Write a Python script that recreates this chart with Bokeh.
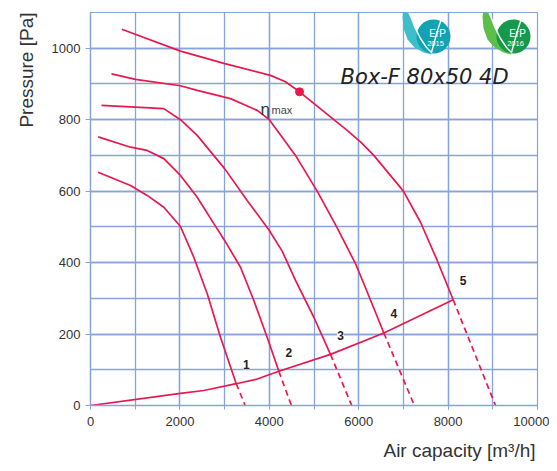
import math
from bokeh.plotting import figure
from bokeh.models import Range1d, SingleIntervalTicker, Label, LabelSet, ColumnDataSource, Title
from bokeh.core.properties import value
from bokeh.embed import file_html
from bokeh.resources import INLINE

# ---------------- data ----------------
c1_x = [170, 895, 1268, 1640, 2013, 2311, 2611, 2908, 3260]
c1_y = [653, 616, 588, 555, 501, 415, 313, 191, 61]
c2_x = [171, 895, 1268, 1640, 2013, 2387, 2759, 3000, 3356, 3654, 3952, 4213]
c2_y = [752, 723, 714, 691, 644, 583, 509, 462, 387, 294, 191, 96]
c3_x = [246, 895, 1640, 2013, 2387, 3000, 3505, 4000, 4288, 4586, 4996, 5369]
c3_y = [840, 836, 831, 800, 756, 663, 574, 490, 432, 350, 247, 143]
c4_x = [470, 1007, 2013, 2387, 3132, 3729, 4000, 4177, 4586, 5071, 5519, 5928, 6078, 6450, 6562]
c4_y = [928, 913, 895, 882, 859, 826, 800, 770, 700, 600, 497, 397, 352, 238, 203]
c5_x = [700, 2013, 3005, 4027, 4362, 4676, 5742, 6040, 6338, 7000, 7383, 7756, 8114]
c5_y = [1053, 992, 957, 924, 906, 878, 770, 738, 700, 600, 513, 406, 296]

# dashed continuation end points (below the axis, clipped)
dash_end_x = [3500, 4535, 5890, 7293, 9105]
dash_end_y = [-12, -14, -14, -14, -14]

# system (working point) curve
sys_x = [0, 2013, 2535, 3260, 3729, 4213, 5369, 6562, 8114]
sys_y = [0, 34, 42, 61, 74, 96, 143, 203, 296]

curve_names = ["1", "2", "3", "4", "5"]
eta_x = [4676]
eta_y = [878]

x_ticks_labels = ["0", "2000", "4000", "6000", "8000", "10000"]
y_ticks_labels = ["0", "200", "400", "600", "800", "1000"]

# ---------------- styling ----------------
RED = "#E8194C"
GRID = "#86A3DA"
TXT = "#333333"
W, H = 549, 470
ML, MR, MT, MB = 90, 12, 12, 65
XMAX, YMAX = 10000, 1100
XU = XMAX / (W - ML - MR)   # data units per pixel
YU = YMAX / (H - MT - MB)

def dx_(px):   # page pixel -> data x
    return (px - ML) * XU

def dy_(py):   # page pixel -> data y
    return (H - MB - py) * YU

p = figure(width=W, height=H, output_backend="svg", toolbar_location=None,
           x_range=Range1d(0, XMAX), y_range=Range1d(0, YMAX),
           min_border_left=ML, min_border_right=MR, min_border_top=MT, min_border_bottom=MB)
p.background_fill_color = "white"
p.border_fill_color = "white"
p.outline_line_color = GRID
p.outline_line_width = 1.2

xt = SingleIntervalTicker(interval=2000, num_minor_ticks=2)
yt = SingleIntervalTicker(interval=200, num_minor_ticks=2)
p.xaxis.ticker = xt
p.yaxis.ticker = yt
p.xgrid.ticker = xt
p.ygrid.ticker = yt
for g in (p.xgrid, p.ygrid):
    g.grid_line_color = GRID
    g.grid_line_width = 1.3
    g.minor_grid_line_color = GRID
    g.minor_grid_line_width = 1.3

for ax in (p.xaxis, p.yaxis):
    ax.axis_line_color = GRID
    ax.axis_line_width = 1.3
    ax.major_tick_line_color = GRID
    ax.minor_tick_line_color = GRID
    ax.major_tick_in = 0
    ax.minor_tick_in = 0
    ax.major_label_text_font = "Liberation Sans"
    ax.major_label_text_font_size = "13px"
    ax.major_label_text_color = TXT
p.xaxis.major_tick_out = 4
p.xaxis.minor_tick_out = 4
p.xaxis.major_label_standoff = 7
p.yaxis.major_tick_out = 5
p.yaxis.minor_tick_out = 0
p.yaxis.major_label_standoff = 5
p.xaxis.major_label_overrides = {i * 2000: s for i, s in enumerate(x_ticks_labels)}
p.yaxis.major_label_overrides = {i * 200: s for i, s in enumerate(y_ticks_labels)}

# axis titles as Title panels (right / top aligned like the reference)
p.add_layout(Title(text="Air capacity [m³/h]", align="right", text_font="Liberation Sans",
                   text_font_size="19px", text_font_style="normal", text_color=TXT,
                   standoff=19, offset=2), "below")
p.add_layout(Title(text="Pressure [Pa]", align="right", vertical_align="top",
                   text_font="Liberation Sans",
                   text_font_size="19px", text_font_style="normal", text_color=TXT,
                   standoff=20), "left")

# ---------------- logos (decoration, drawn in pixel offsets) ----------------
def off(cx, cy, pts):
    return [cx + dx * XU for dx, dy in pts], [cy - dy * YU for dx, dy in pts]

def logo(cx_px, cy_px, leaf_col, circ_col, year):
    cx, cy = dx_(cx_px), dy_(cy_px)
    leaf = [(-29, -31), (-31, -20), (-30, -8), (-26, 3), (-19, 11), (-10, 16), (-2, 18),
            (-6, 10), (-12, 2), (-18, -8), (-23, -19)]
    lx, ly = off(cx, cy, leaf)
    p.patch(lx, ly, fill_color=leaf_col, line_color=None)
    p.scatter([cx], [cy], size=34, marker="circle", fill_color=circ_col, line_color=None)
    wx, wy = off(cx, cy, [(-24, -24), (-19, -10), (-13, 2), (-7, 11), (-2, 16)])
    p.line(wx, wy, line_color="white", line_width=1.4)
    wx, wy = off(cx, cy, [(-2, 16), (1, 5), (4, -6), (7, -15), (9, -22)])
    p.line(wx, wy, line_color="white", line_width=1.4)
    p.add_layout(Label(x=cx + 4 * XU, y=cy + 3 * YU, text="ErP", text_align="center",
                       text_baseline="middle", text_font="Liberation Sans",
                       text_font_size="10px", text_color="white"))
    p.add_layout(Label(x=cx + 2 * XU, y=cy - 7 * YU, text=year, text_align="center",
                       text_baseline="middle", text_font="Liberation Sans",
                       text_font_size="7.5px", text_color="white"))

logo(433, 36, "#3DBFC9", "#12A2B4", "2015")
logo(513, 36, "#5CBF4A", "#15994A", "2016")

# ---------------- curves ----------------
curves = [(c1_x, c1_y), (c2_x, c2_y), (c3_x, c3_y), (c4_x, c4_y), (c5_x, c5_y)]
for (cx, cy), ex, ey in zip(curves, dash_end_x, dash_end_y):
    p.line(cx, cy, line_color=RED, line_width=1.7)
    p.line([cx[-1], ex], [cy[-1], ey], line_color=RED, line_width=1.7, line_dash="6 4")

p.line(sys_x, sys_y, line_color=RED, line_width=1.7)
p.scatter(eta_x, eta_y, size=8, marker="circle", fill_color=RED, line_color=RED)

# curve number labels near the working points
end_x = [c[0][-1] for c in curves]
end_y = [c[1][-1] for c in curves]
src = ColumnDataSource(dict(x=[v + 10 * XU for v in end_x], y=[v + 19 * YU for v in end_y],
                            t=curve_names))
p.add_layout(LabelSet(x="x", y="y", text="t", source=src, text_align="center",
                      text_baseline="middle", text_font=value("Liberation Sans"),
                      text_font_size=value("12px"), text_font_style="bold",
                      text_color="#222222", background_fill_color="white"))

# eta max label
p.add_layout(Label(x=eta_x[0] - 39 * XU, y=eta_y[0] - 18 * YU, text="η",
                   text_font="Liberation Sans", text_font_size="17px", text_color=TXT,
                   text_baseline="alphabetic"))
p.add_layout(Label(x=eta_x[0] - 28 * XU, y=eta_y[0] - 18 * YU, text="max",
                   text_font="Liberation Sans", text_font_size="11px", text_color="#444444",
                   text_baseline="alphabetic"))

# model title
p.add_layout(Label(x=dx_(340), y=dy_(76), text="Box-F 80x50 4D",
                   text_font="DejaVu Sans", text_font_style="italic", text_font_size="21px",
                   text_color="#222222", text_baseline="alphabetic"))

open("out.html", "w").write(file_html(p, INLINE))
